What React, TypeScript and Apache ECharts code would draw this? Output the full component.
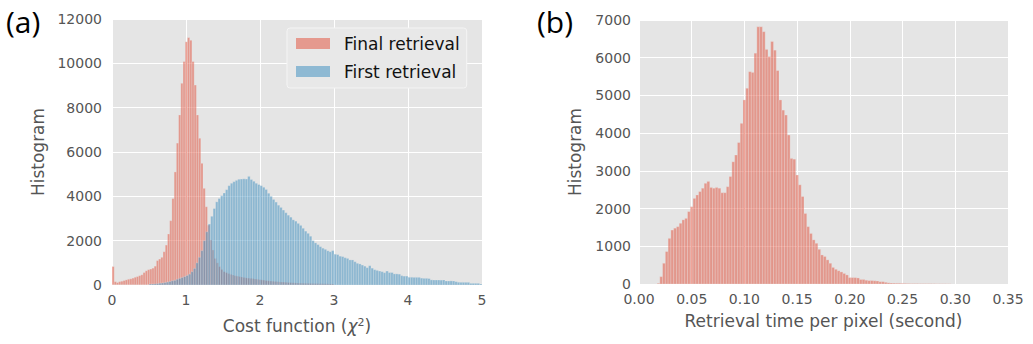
import React, { useEffect, useRef } from "react";
import * as echarts from "echarts";

// Panel (a): cost function histograms
const finalBinStart = 0;
const finalBinWidth = 0.03;
const finalRetrieval = [
  830, 150, 110, 150, 170, 200, 230, 260, 280, 310,
  350, 380, 420, 460, 560, 640, 690, 720, 760, 850,
  1100, 1170, 1250, 1500, 1800, 2300, 2900, 3900, 5100, 6400,
  7670, 9100, 10080, 10970, 11160, 11040, 10080, 9020, 7670, 6620,
  5490, 4360, 3530, 2700, 2030, 1580, 1200, 1000, 830, 700,
  600, 560, 520, 480, 450, 420, 400, 380, 360, 340,
  320, 310, 300, 290, 270, 260, 240, 230, 220, 200,
  190, 180, 170, 160, 150, 140, 135, 130, 120, 110,
  105, 100, 95, 90, 85, 80, 78, 75, 72, 70,
  68, 65, 62, 60, 58, 55, 52, 50, 48, 46,
];

const firstBinStart = 0;
const firstBinWidth = 1 / 30;
const firstRetrieval = [
  0, 0, 0, 0, 0, 0, 0, 0, 0, 0,
  0, 0, 0, 0, 0, 40, 45, 50, 60, 80,
  90, 110, 130, 160, 190, 210, 260, 300, 340, 380,
  430, 490, 600, 750, 1000, 1250, 1550, 2000, 2400, 2750,
  3100, 3450, 3750, 3900, 4030, 4150, 4300, 4480, 4590, 4660,
  4720, 4770, 4780, 4790, 4780, 4900, 4760, 4680, 4590, 4530,
  4480, 4410, 4310, 4140, 4000, 3860, 3740, 3600, 3500, 3380,
  3260, 3150, 3060, 2940, 2880, 2780, 2690, 2560, 2430, 2330,
  2200, 2000, 1900, 1820, 1730, 1660, 1610, 1540, 1500, 1550,
  1390, 1370, 1300, 1280, 1230, 1200, 1130, 1130, 1050, 980,
  950, 900, 850, 780, 870, 760, 690, 660, 630, 600,
  555, 630, 560, 560, 500, 500, 490, 420, 400, 400,
  350, 350, 345, 345, 345, 310, 300, 300, 290, 230,
  225, 225, 225, 220, 225, 180, 180, 185, 180, 150,
  125, 120, 120, 120, 120, 75, 75, 75, 75, 45,
];

// Panel (b): retrieval time histogram
const timeBinStart = 0.0171;
const timeBinWidth = 0.00263;
const retrievalTime = [
  18, 195, 550, 860, 1210, 1430, 1480, 1520, 1610, 1700,
  1740, 1920, 2050, 2270, 2360, 2450, 2540, 2670, 2720, 2560,
  2540, 2560, 2540, 2420, 2420, 2580, 2850, 3240, 3420, 3750,
  4260, 4880, 5190, 5630, 5610, 6120, 6820, 6820, 6690, 6220,
  6030, 6430, 6200, 5660, 4880, 4610, 4480, 3950, 3330, 3310,
  2890, 2630, 2320, 1870, 1520, 1340, 1170, 1080, 920, 770,
  730, 640, 550, 440, 390, 350, 320, 280, 240, 170,
  170, 170, 160, 120, 120, 100, 90, 90, 85, 80,
  60, 60, 45, 30, 25, 22, 20, 20, 18, 15,
  12, 10, 10, 10, 8, 8, 8, 8, 7, 6,
  6, 5, 5, 5, 4, 4,
];

const costTicks = { min: 0, max: 5, interval: 1 };
const countTicksA = { min: 0, max: 12000, interval: 2000 };
const timeTicks = { min: 0, max: 0.35, interval: 0.05 };
const countTicksB = { min: 0, max: 7000, interval: 1000 };

const RED = "rgba(226,74,51,0.5)";
const BLUE = "rgba(52,138,189,0.5)";
const FONT = "DejaVu Sans";

function toBins(values: number[], start: number, width: number) {
  return values.map((c, i) => [start + i * width, start + (i + 1) * width, c]);
}

function histRender(color: string) {
  return (params: any, api: any) => {
    const x0 = api.value(0);
    const x1 = api.value(1);
    const c = api.value(2);
    const a = api.coord([x0, c]);
    const b = api.coord([x1, 0]);
    return {
      type: "rect",
      shape: { x: a[0], y: a[1], width: b[0] - a[0], height: b[1] - a[1] },
      style: { fill: color, stroke: "rgba(238,238,238,0.5)", lineWidth: 0.5 },
    };
  };
}

function xAxisCfg(grid: number, t: any, name: any, gap: number, fmt?: (v: number) => string, rich?: any) {
  return {
    gridIndex: grid,
    type: "value",
    min: t.min,
    max: t.max,
    interval: t.interval,
    axisLine: { show: false },
    axisTick: { show: false },
    axisLabel: {
      color: "#555555",
      fontSize: 14,
      fontFamily: FONT,
      margin: 8,
      formatter: fmt || ((v: number) => String(v)),
    },
    splitLine: { show: true, lineStyle: { color: "#ffffff", width: 1 } },
    name,
    nameLocation: "middle",
    nameGap: gap,
    nameTextStyle: { color: "#555555", fontSize: 17, fontFamily: FONT, rich },
  };
}

function yAxisCfg(grid: number, t: any, gap: number, margin: number) {
  return {
    gridIndex: grid,
    type: "value",
    min: t.min,
    max: t.max,
    interval: t.interval,
    axisLine: { show: false },
    axisTick: { show: false },
    axisLabel: {
      color: "#555555",
      fontSize: 14,
      fontFamily: FONT,
      margin,
      formatter: (v: number) => String(v),
    },
    splitLine: { show: true, lineStyle: { color: "#ffffff", width: 1 } },
    name: "Histogram",
    nameLocation: "middle",
    nameGap: gap,
    nameTextStyle: { color: "#555555", fontSize: 17, fontFamily: FONT },
  };
}

export default function App() {
  const ref = useRef<HTMLDivElement>(null);
  useEffect(() => {
    if (!ref.current) return;
    const chart = echarts.init(ref.current, undefined, { renderer: "svg" });
    const costRich = {
      it: { fontStyle: "italic", fontSize: 17, color: "#555555", fontFamily: FONT },
      sup: { fontSize: 11, color: "#555555", fontFamily: FONT, verticalAlign: "top", padding: [0, 0, 6, 0] },
    };
    const option: any = {
      animation: false,
      textStyle: { fontFamily: FONT },
      grid: [
        { left: 112, top: 19, width: 370, height: 266, show: true, backgroundColor: "#E5E5E5", borderWidth: 0 },
        { left: 639, top: 20, width: 369, height: 264, show: true, backgroundColor: "#E5E5E5", borderWidth: 0 },
      ],
      xAxis: [
        xAxisCfg(0, costTicks, "Cost function ({it|χ}{sup|2})", 32, undefined, costRich),
        xAxisCfg(1, timeTicks, "Retrieval time per pixel (second)", 28, (v: number) => v.toFixed(2)),
      ],
      yAxis: [yAxisCfg(0, countTicksA, 66, 10), yAxisCfg(1, countTicksB, 56, 8)],
      legend: {
        orient: "vertical",
        left: 287,
        top: 28,
        padding: [7, 7, 8, 9],
        itemWidth: 34,
        itemHeight: 11,
        itemGap: 11,
        selectedMode: false,
        backgroundColor: "#E8E8E8",
        borderColor: "#F4F4F4",
        borderWidth: 1,
        borderRadius: 3,
        textStyle: { fontSize: 17, color: "#111111", fontFamily: FONT, lineHeight: 17, padding: [0, 0, 0, 9] },
        data: [
          { name: "Final retrieval", icon: "rect" },
          { name: "First retrieval", icon: "rect" },
        ],
      },
      graphic: [
        { type: "text", left: 6, top: 6, style: { text: "(a)", fontSize: 30, fontFamily: "Open Sans", fill: "#000" } },
        { type: "text", left: 537, top: 6, style: { text: "(b)", fontSize: 30, fontFamily: "Open Sans", fill: "#000" } },
      ],
      series: [
        {
          name: "Final retrieval",
          type: "custom",
          xAxisIndex: 0,
          yAxisIndex: 0,
          renderItem: histRender(RED),
          itemStyle: { color: RED },
          encode: { x: [0, 1], y: 2 },
          clip: true,
          data: toBins(finalRetrieval, finalBinStart, finalBinWidth),
        },
        {
          name: "First retrieval",
          type: "custom",
          xAxisIndex: 0,
          yAxisIndex: 0,
          renderItem: histRender(BLUE),
          itemStyle: { color: BLUE },
          encode: { x: [0, 1], y: 2 },
          clip: true,
          data: toBins(firstRetrieval, firstBinStart, firstBinWidth),
        },
        {
          name: "Retrieval time",
          type: "custom",
          xAxisIndex: 1,
          yAxisIndex: 1,
          renderItem: histRender(RED),
          itemStyle: { color: RED },
          encode: { x: [0, 1], y: 2 },
          clip: true,
          data: toBins(retrievalTime, timeBinStart, timeBinWidth),
        },
      ],
    };
    chart.setOption(option);
    return () => chart.dispose();
  }, []);
  return (
    <div
      ref={ref}
      style={{ position: "fixed", left: 0, top: 0, width: 1033, height: 344, background: "#fff" }}
    />
  );
}
